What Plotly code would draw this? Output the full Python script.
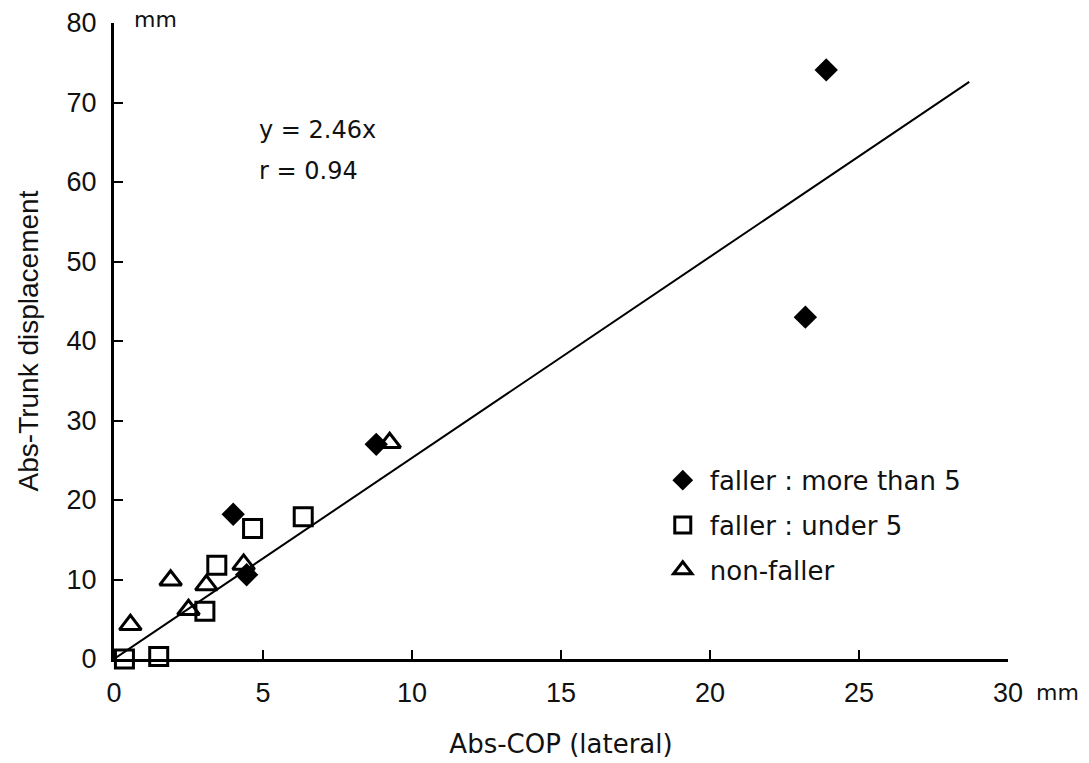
import plotly.graph_objects as go

# Data
faller_more_x = [23.9, 23.2, 8.8, 4.0, 4.45]
faller_more_y = [74.1, 43.0, 27.0, 18.2, 10.6]

faller_under_x = [0.35, 1.5, 3.05, 3.45, 4.65, 6.35]
faller_under_y = [0.0, 0.3, 6.0, 11.8, 16.4, 17.9]

non_faller_x = [0.55, 1.9, 2.5, 3.1, 4.35, 9.25]
non_faller_y = [4.3, 9.9, 6.2, 9.3, 11.9, 27.2]

fit_x = [0.0, 28.7]
fit_y = [0.0, 72.6]

x_ticks = [0, 5, 10, 15, 20, 25, 30]
y_ticks = [0, 10, 20, 30, 40, 50, 60, 70, 80]

SANS = "Liberation Sans, Arial, sans-serif"
WIDE = "DejaVu Sans, Liberation Sans, sans-serif"
TXT = "#111111"

fig = go.Figure()

fig.add_trace(go.Scatter(
    x=fit_x, y=fit_y, mode="lines",
    line=dict(color="black", width=2),
    showlegend=False, hoverinfo="skip", cliponaxis=False,
))

fig.add_trace(go.Scatter(
    x=faller_more_x, y=faller_more_y, mode="markers",
    name="faller : more than 5", legendgroup="a",
    marker=dict(symbol="diamond", size=18, color="black",
                line=dict(color="black", width=0)),
    cliponaxis=False,
))
fig.add_trace(go.Scatter(
    x=faller_under_x, y=faller_under_y, mode="markers",
    name="faller : under 5", legendgroup="b",
    marker=dict(symbol="square-open", size=18, color="black",
                line=dict(color="black", width=3)),
    cliponaxis=False,
))
fig.add_trace(go.Scatter(
    x=non_faller_x, y=non_faller_y, mode="markers",
    name="non-faller", legendgroup="c",
    marker=dict(symbol="triangle-up-open", size=19, color="black",
                line=dict(color="black", width=3)),
    cliponaxis=False,
))

fig.update_layout(
    width=1089, height=763,
    margin=dict(l=106, r=89, t=15, b=112),
    paper_bgcolor="white", plot_bgcolor="white",
    font=dict(family=SANS, color=TXT, size=22),
    xaxis=dict(
        range=[0, 30], tickvals=x_ticks, ticktext=[str(v) for v in x_ticks],
        showgrid=False, zeroline=False, automargin=False,
        showline=True, linecolor="black", linewidth=3,
        ticks="inside", ticklen=9, tickwidth=2, tickcolor="black",
        tickfont=dict(size=27, family=SANS, color=TXT),
        ticklabelstandoff=8,
        title=dict(text="Abs-COP (lateral)", font=dict(size=26, family=WIDE, color=TXT), standoff=28),
    ),
    yaxis=dict(
        range=[0, 80], tickvals=y_ticks, ticktext=[str(v) for v in y_ticks],
        showgrid=False, zeroline=False, automargin=False,
        showline=True, linecolor="black", linewidth=3,
        ticks="inside", ticklen=9, tickwidth=2, tickcolor="black",
        tickfont=dict(size=27, family=SANS, color=TXT),
        ticklabelstandoff=9,
        title=dict(text="Abs-Trunk displacement", font=dict(size=28, family=SANS, color=TXT), standoff=20),
    ),
    legend=dict(
        x=0.606, y=0.318, xanchor="left", yanchor="top",
        bgcolor="rgba(0,0,0,0)", borderwidth=0,
        font=dict(size=26, family=WIDE, color=TXT),
        tracegroupgap=8, itemsizing="trace", itemwidth=44,
    ),
    annotations=[
        dict(text="y = 2.46x", x=4.8, y=66.6, xref="x", yref="y",
             xanchor="left", yanchor="middle", showarrow=False,
             font=dict(size=24, family=WIDE, color=TXT)),
        dict(text="r = 0.94", x=4.8, y=61.4, xref="x", yref="y",
             xanchor="left", yanchor="middle", showarrow=False,
             font=dict(size=24, family=WIDE, color=TXT)),
        dict(text="mm", x=0.0, y=1.0, xref="paper", yref="paper",
             xanchor="left", yanchor="middle", xshift=18, yshift=4, showarrow=False,
             font=dict(size=22, family=WIDE, color=TXT)),
        dict(text="mm", x=1.0, y=0.0, xref="paper", yref="paper",
             xanchor="left", yanchor="middle", xshift=26, yshift=-33, showarrow=False,
             font=dict(size=22, family=WIDE, color=TXT)),
    ],
)

fig.write_html("out.html")
